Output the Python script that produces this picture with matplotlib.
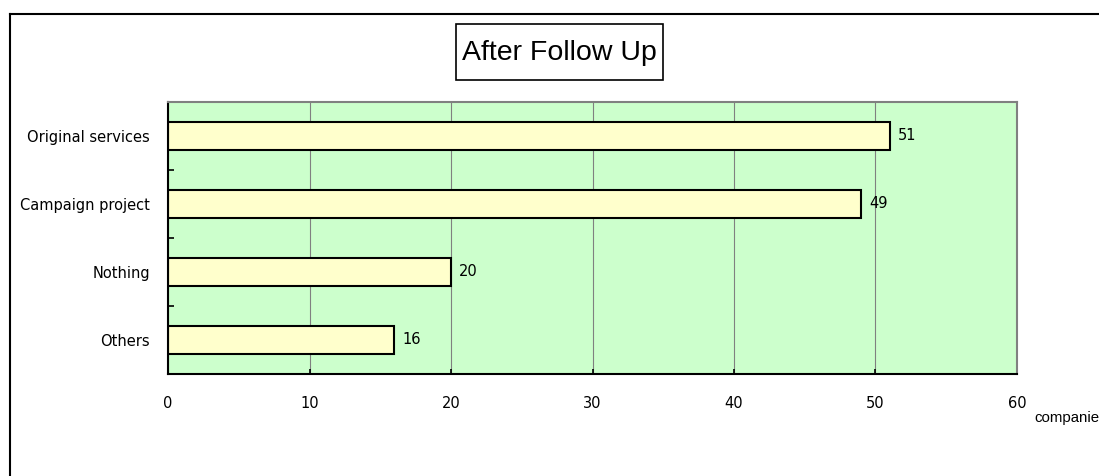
import matplotlib.pyplot as plt
from matplotlib.lines import Line2D
from matplotlib.patches import Rectangle

categories = ['Original services', 'Campaign project', 'Nothing', 'Others']
companies = [51, 49, 20, 16]
x_ticks = [0, 10, 20, 30, 40, 50, 60]

plt.rcParams['font.family'] = ['DejaVu Sans']

fig = plt.figure(figsize=(10.99, 4.76), dpi=100)
ax = fig.add_axes([168 / 1099, 1 - 374 / 476, 849 / 1099, 272 / 476])

# outer frame: only left and top edges show
fig.add_artist(Line2D([9.5 / 1099, 9.5 / 1099], [0, 1 - 14 / 476], color='black', lw=1.5))
fig.add_artist(Line2D([9.5 / 1099, 1], [1 - 14 / 476, 1 - 14 / 476], color='black', lw=1.5))

ax.set_facecolor('#CCFFCC')
ypos = list(range(len(categories)))
ax.barh(ypos, companies, height=0.41, color='#FFFFCC', edgecolor='black', linewidth=1.5, zorder=3)

for y, v in zip(ypos, companies):
    ax.text(v + 0.55, y, str(v), va='center', ha='left', fontsize=10.5, zorder=4)

ax.set_xlim(0, 60)
ax.set_ylim(3.5, -0.5)
ax.set_xticks(x_ticks)
ax.set_xticklabels([str(t) for t in x_ticks], fontsize=10.5)
ax.set_yticks(ypos)
ax.set_yticklabels(categories, fontsize=10.5)
ax.set_yticks([-0.5, 0.5, 1.5, 2.5, 3.5], minor=True)

ax.tick_params(axis='y', which='major', length=0, pad=13)
ax.tick_params(axis='y', which='minor', direction='in', length=4.3, width=1.2)
ax.tick_params(axis='x', direction='in', length=3.6, width=1.2, pad=16)

ax.grid(axis='x', color='#808080', lw=0.8, zorder=1)
ax.set_axisbelow(True)

for side in ['left', 'bottom']:
    ax.spines[side].set_color('black')
    ax.spines[side].set_linewidth(1.5)
for side in ['top', 'right']:
    ax.spines[side].set_color('#808080')
    ax.spines[side].set_linewidth(1.5)
for s in ax.spines.values():
    s.set_zorder(5)

# title with its own frame
fig.add_artist(Rectangle((456 / 1099, 1 - 80 / 476), 207 / 1099, 56 / 476,
                         transform=fig.transFigure, facecolor='white',
                         edgecolor='black', lw=1.2))
fig.text(559.5 / 1099, 1 - 53 / 476, 'After Follow Up', ha='center', va='center',
         fontsize=20.5, family='Liberation Sans')

fig.text(1034 / 1099, 1 - 422 / 476, 'companies', ha='left', va='baseline',
         fontsize=10.8, family='Liberation Sans')

fig.savefig('out.png', dpi=100)
